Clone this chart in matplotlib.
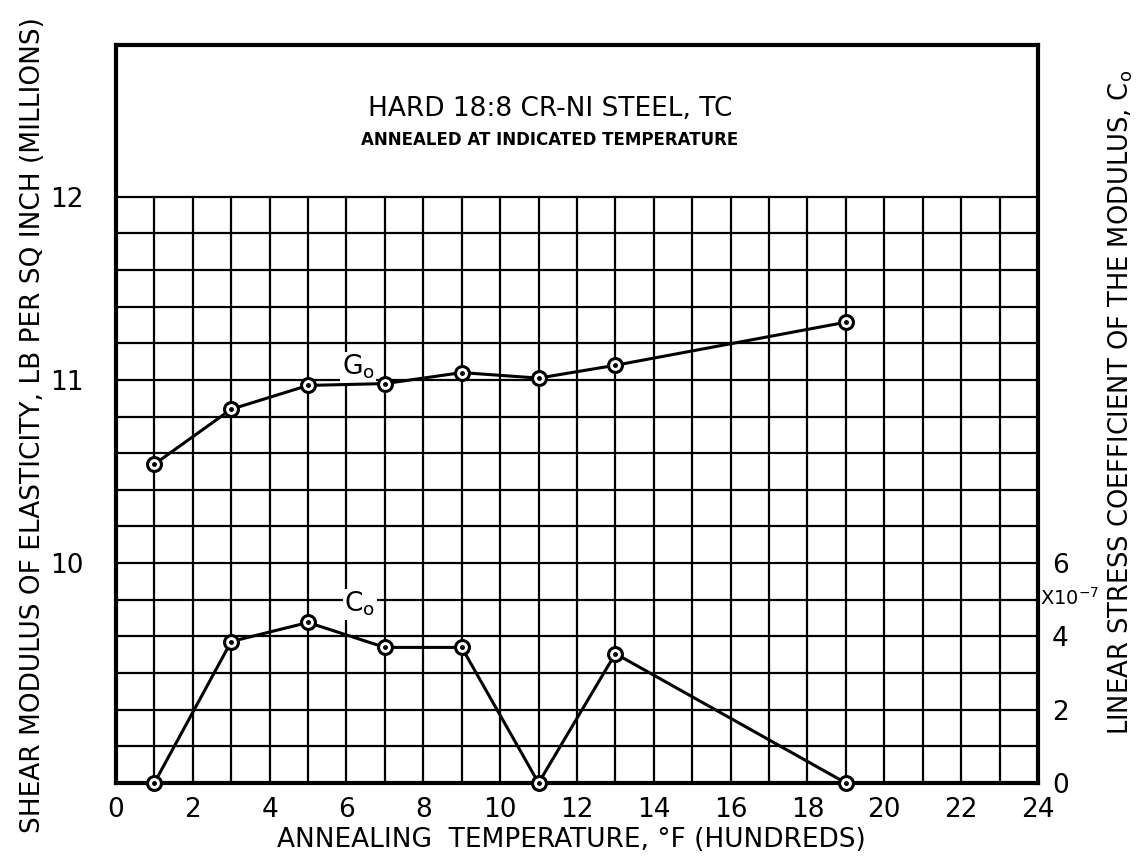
import matplotlib
matplotlib.use("Agg")
import matplotlib.pyplot as plt
import numpy as np

# annealing temperature, deg F (hundreds)
temps = [1, 3, 5, 7, 9, 11, 13, 19]
# shear modulus G0, million lb/sq in (left axis)
g0 = [10.54, 10.84, 10.97, 10.98, 11.04, 11.01, 11.08, 11.315]
# linear stress coefficient C0, x10^-7 (right axis)
c0 = [0.0, 3.86, 4.38, 3.70, 3.70, 0.0, 3.53, 0.0]

x_ticks = list(range(0, 25, 2))
left_ticks = [10, 11, 12]
right_ticks = [0, 2, 4, 6]

Y_BOT, Y_GRID, Y_TOP = 8.8, 12.0, 12.83
SCALE = 5.0  # right units per left unit

plt.rcParams["font.family"] = ["DejaVu Sans"]

fig = plt.figure(figsize=(11.39, 8.59), dpi=100)
ax = fig.add_axes([0.1018, 0.0885, 0.8095, 0.8595])
ax.set_xlim(0, 24)
ax.set_ylim(Y_BOT, Y_TOP)

# graph-paper grid only below the title box
ax.vlines(np.arange(1, 24), Y_BOT, Y_GRID, color="black", lw=1.6, zorder=1)
ax.hlines(np.arange(Y_BOT + 0.2, Y_GRID + 0.01, 0.2), 0, 24, color="black", lw=1.6, zorder=1)

for s in ax.spines.values():
    s.set_linewidth(3)

ax.set_xticks(x_ticks)
ax.set_xticklabels([str(t) for t in x_ticks], fontsize=19)
ax.set_yticks(left_ticks)
ax.set_yticklabels([str(t) for t in left_ticks], fontsize=19)
ax.tick_params(axis="x", length=0, pad=10)
ax.tick_params(axis="y", length=0, pad=23)

ax.set_xlabel("ANNEALING  TEMPERATURE, \u00b0F (HUNDREDS)", fontsize=19)
ax.xaxis.set_label_coords(0.4935, -0.077)
ax.xaxis.label.set_va("center")
ax.set_ylabel("SHEAR MODULUS OF ELASTICITY, LB PER SQ INCH (MILLIONS)", fontsize=19)
ax.yaxis.set_label_coords(-0.09, 0.485)
ax.yaxis.label.set_va("center")

ax.plot(temps, g0, color="black", lw=2.2, marker="o", ms=10, mfc="white",
        mec="black", mew=2.2, zorder=3, clip_on=False)
ax.plot(temps, g0, ls="none", marker="o", ms=2.5, color="black", zorder=4, clip_on=False)

ax.text(11.3, 12.48, "HARD 18:8 CR-NI STEEL, TC", ha="center", va="center", fontsize=19)
ax.text(11.3, 12.31, "ANNEALED AT INDICATED TEMPERATURE", ha="center", va="center",
        fontsize=12, fontweight="bold")
ax.text(6.3, 11.07, "G$_\\mathrm{o}$", ha="center", va="center", fontsize=19,
        bbox=dict(facecolor="white", edgecolor="none", pad=1), zorder=2)

ax2 = ax.twinx()
ax2.set_ylim(0, (Y_TOP - Y_BOT) * SCALE)
ax2.set_yticks(right_ticks)
ax2.set_yticklabels([str(t) for t in right_ticks], fontsize=19)
ax2.tick_params(axis="y", length=0, pad=10)
for s in ax2.spines.values():
    s.set_visible(False)
ax2.set_ylabel("LINEAR STRESS COEFFICIENT OF THE MODULUS, C$_\\mathrm{o}$", fontsize=18.5)
ax2.yaxis.set_label_coords(1.09, 0.516)
ax2.yaxis.label.set_va("center")

ax2.plot(temps, c0, color="black", lw=2.2, marker="o", ms=10, mfc="white",
         mec="black", mew=2.2, zorder=3, clip_on=False)
ax2.plot(temps, c0, ls="none", marker="o", ms=2.5, color="black", zorder=4, clip_on=False)
ax2.text(6.35, 4.88, "C$_\\mathrm{o}$", ha="center", va="center", fontsize=19,
         bbox=dict(facecolor="white", edgecolor="none", pad=1), zorder=2)
ax2.text(1.002, 5.05, "X10$^{-7}$", transform=ax2.get_yaxis_transform(), ha="left",
         va="center", fontsize=14)

fig.savefig("out.png", dpi=100)
